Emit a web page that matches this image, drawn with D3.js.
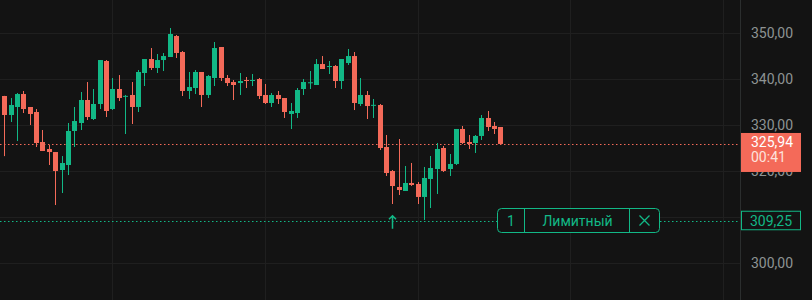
<!DOCTYPE html>
<html>
<head>
<meta charset="utf-8">
<script src="https://cdn.jsdelivr.net/npm/d3@7"></script>
<style>
  html, body { margin: 0; padding: 0; background: #131313; }
  svg { display: block; font-family: Roboto, "Noto Sans", sans-serif; }
</style>
</head>
<body>
<svg id="chart" width="812" height="300"></svg>
<script>
'use strict'

// OHLC per candle
var open  = [336.37,332.24,333.98,336.8,333.98,332.89,326.37,324.85,324.19,320.28,321.37,328.76,330.5,335.5,331.37,334.63,343.98,333.54,337.89,336.2,
             336.59,333.98,341.37,344.41,342.46,344.19,344.85,349.41,345.93,337.46,338.11,341.59,336.59,340.28,347.02,340.28,339.41,339.19,339.85,339.63,
             340.06,336.59,334.85,336.59,335.93,332.46,332.67,337.89,339.2,338.76,343.32,342.67,342.89,339.63,343.54,345.06,334.63,336.59,334.3,334.41,
             325.28,320.06,316.59,315.72,317.46,317.24,314.42,318.33,320.5,325.07,320.5,321.59,329.2,326.37,326.15,327.68,331.59,329.85,329.63]
var high  = [336.4,335.93,337.02,337.46,333.98,333.54,328.98,325.72,324.19,323.32,330.5,333.98,337.24,339.41,337.89,344.19,344.19,340.28,340.93,336.6,
             339.41,342.02,344.41,346.8,345.5,345.72,351.15,349.63,346.15,341.59,342.02,341.59,340.93,348.11,347.02,340.93,339.85,341.37,340.5,341.15,
             340.28,338.98,337.02,337.46,335.93,334.85,338.11,340.06,341.8,344.41,345.06,343.98,343.1,344.41,346.59,345.93,340.28,337.46,335.72,334.63,
             327.89,320.28,327.02,321.15,321.81,317.68,320.94,323.33,326.15,325.5,323.76,329.2,329.85,327.89,327.89,332.24,333.11,330.72,329.63]
var low   = [323.3,330.72,326.59,332.67,330.06,325.28,324.41,321.37,312.67,315.28,319.19,325.28,328.98,331.15,331.15,333.54,331.8,333.33,335.28,328.11,
             330.28,332.89,338.54,342.02,341.37,341.8,344.85,344.63,336.37,335.72,336.8,333.98,335.93,338.54,339.63,338.54,335.5,336.59,338.11,338.54,
             335.72,334.63,333.98,334.63,331.59,329.19,331.59,336.59,337.89,338.76,342.24,341.15,338.11,337.89,343.11,333.32,334.19,331.37,331.59,324.63,
             318.98,312.89,314.85,315.72,316.81,312.89,309.42,312.02,315.07,319.85,318.98,321.37,325.94,324.85,323.98,326.81,328.76,328.11,325.72]
var close = [332.24,334.41,336.8,333.54,332.46,326.15,324.41,324.19,320.06,321.8,328.76,330.93,335.5,331.8,334.63,344.19,333.11,337.89,335.93,336.4,
             333.98,341.59,344.41,342.46,344.19,345.06,349.85,345.72,337.46,338.32,341.59,336.59,340.72,346.8,340.28,339.19,338.76,339.63,339.63,339.85,
             336.37,334.85,336.59,335.72,332.89,333.11,337.67,339.41,339.35,343.32,342.24,342.89,339.63,344.41,345.06,334.85,336.59,334.19,334.45,325.06,
             319.63,316.8,315.93,317.46,317.02,314.42,318.55,320.72,324.85,320.07,321.59,329.2,326.15,325.94,327.68,331.59,329.63,329.2,325.94]

var priceTicks = [300, 310, 320, 330, 340, 350]
var timeGrid = [17, 41, 65, 89, 113]   // candle slots with vertical grid lines

var lastPrice = 325.94
var timer = '00:41'
var limitPrice = 309.25
var limitQty = '1'
var limitType = 'Лимитный'
var buyMarkIndex = 61

var up = '#12b886', down = '#f46a59', grid = '#1f1f1f', bg = '#131313'

var svg = d3.select('#chart'),
    width = +svg.attr('width'),
    height = +svg.attr('height'),
    plotRight = 740

var data = open.map((o, i) => ({i: i, o: o, h: high[i], l: low[i], c: close[i]}))

var x = d3.scaleLinear().domain([-0.676, 115.67]).range([0, plotRight])
var y = d3.scaleLinear().domain([292.02, 357.24]).range([height, 0])

var fmt = v => d3.format('.2f')(v).replace('.', ',')

svg.append('rect').attr('width', width).attr('height', height).attr('fill', bg)

// grid
var g = svg.append('g')
g.selectAll('.hgrid').data(priceTicks).enter().append('line')
  .attr('x1', 0).attr('x2', plotRight)
  .attr('y1', d => Math.round(y(d)) + 0.5).attr('y2', d => Math.round(y(d)) + 0.5)
  .attr('stroke', grid)
g.selectAll('.vgrid').data(timeGrid).enter().append('line')
  .attr('x1', d => Math.round(x(d)) + 0.5).attr('x2', d => Math.round(x(d)) + 0.5)
  .attr('y1', 0).attr('y2', height)
  .attr('stroke', grid)

// price line + limit line
svg.append('line')
  .attr('x1', 0).attr('x2', plotRight)
  .attr('y1', Math.round(y(lastPrice)) + 0.5).attr('y2', Math.round(y(lastPrice)) + 0.5)
  .attr('stroke', down).attr('stroke-dasharray', '1.5,2.5')
svg.append('line')
  .attr('x1', 0).attr('x2', plotRight)
  .attr('y1', Math.round(y(limitPrice)) + 0.5).attr('y2', Math.round(y(limitPrice)) + 0.5)
  .attr('stroke', up).attr('stroke-dasharray', '1.5,2.5')

// candles
var candle = svg.append('g').selectAll('g').data(data).enter().append('g')
  .attr('fill', d => d.c >= d.o ? up : down)
candle.append('rect')
  .attr('x', d => Math.round(x(d.i)))
  .attr('width', 1)
  .attr('y', d => y(d.h))
  .attr('height', d => Math.max(1, y(d.l) - y(d.h)))
candle.append('rect')
  .attr('x', d => Math.round(x(d.i)) - 2)
  .attr('width', 5)
  .attr('y', d => y(Math.max(d.o, d.c)))
  .attr('height', d => Math.max(1, Math.abs(y(d.o) - y(d.c))))

// buy marker arrow
var ax = Math.round(x(buyMarkIndex)) + 0.5, ay = y(limitPrice)
svg.append('path')
  .attr('d', `M${ax},${ay + 8}V${ay - 5}M${ax - 3.5},${ay - 1.5}L${ax},${ay - 5}L${ax + 3.5},${ay - 1.5}`)
  .attr('stroke', up).attr('stroke-width', 1.5).attr('fill', 'none')

// order widget
var ow = svg.append('g').attr('transform', `translate(497.5,${Math.round(ay) - 12.5})`)
ow.append('rect').attr('width', 162).attr('height', 24).attr('rx', 4)
  .attr('fill', bg).attr('stroke', up)
ow.append('line').attr('x1', 27).attr('x2', 27).attr('y1', 0).attr('y2', 24).attr('stroke', up)
ow.append('line').attr('x1', 132).attr('x2', 132).attr('y1', 0).attr('y2', 24).attr('stroke', up)
ow.append('text').attr('x', 13.5).attr('y', 17).attr('text-anchor', 'middle')
  .attr('fill', up).style('font-size', '14px').text(limitQty)
ow.append('text').attr('x', 80).attr('y', 17).attr('text-anchor', 'middle')
  .attr('fill', up).style('font-size', '14px').text(limitType)
ow.append('path').attr('d', 'M142,7L152,17M152,7L142,17')
  .attr('stroke', up).attr('stroke-width', 1.3)

// right axis
svg.append('rect').attr('x', plotRight).attr('width', width - plotRight).attr('height', height).attr('fill', bg)
svg.append('line').attr('x1', plotRight + 0.5).attr('x2', plotRight + 0.5)
  .attr('y1', 0).attr('y2', height).attr('stroke', '#2b2e2e')

svg.append('g').selectAll('text').data(priceTicks).enter().append('text')
  .attr('x', 751).attr('y', d => y(d) + 5)
  .attr('fill', '#8e9393').style('font-size', '14px')
  .text(fmt)

// last price label
var ly = y(lastPrice)
svg.append('rect').attr('x', 741).attr('y', ly - 11).attr('width', 60).attr('height', 39)
  .attr('fill', down)
svg.append('text').attr('x', 751).attr('y', ly + 3).attr('fill', '#ffffff')
  .style('font-size', '14px').text(fmt(lastPrice))
svg.append('text').attr('x', 751).attr('y', ly + 18).attr('fill', '#fde2dd')
  .style('font-size', '14px').text(timer)

// limit price label
svg.append('rect').attr('x', 741.5).attr('y', ay - 9.5).attr('width', 59).attr('height', 18.5)
  .attr('fill', bg).attr('stroke', up)
svg.append('text').attr('x', 771).attr('y', ay + 5).attr('text-anchor', 'middle')
  .attr('fill', up).style('font-size', '14px').text(fmt(limitPrice))
</script>
</body>
</html>
